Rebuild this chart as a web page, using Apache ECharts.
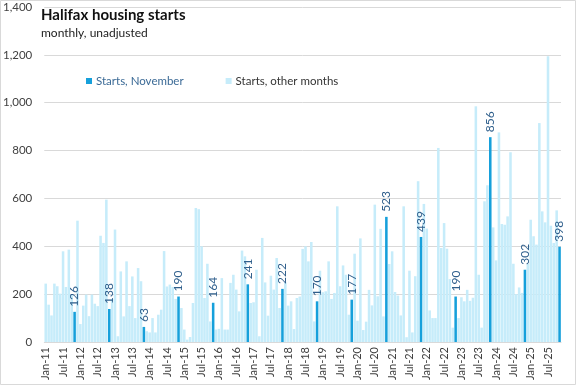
<!DOCTYPE html>
<html><head><meta charset="utf-8">
<script src="https://cdn.jsdelivr.net/npm/echarts@6/dist/echarts.min.js"></script>
<style>html,body{margin:0;padding:0;background:#fff}#c{width:576px;height:385px}</style>
</head><body><div id="c"></div>
<script>
// Monthly housing starts, Jan..Dec per year (2025: Jan..Nov)
const y2011 = [244,156,111,244,233,202,379,230,386,200,126,507];
const y2012 = [75,152,198,108,198,160,150,444,414,595,138,180];
const y2013 = [470,24,295,107,337,150,274,100,309,254,63,45];
const y2014 = [40,100,40,114,135,380,232,240,230,180,190,142];
const y2015 = [52,10,21,163,560,555,400,184,327,86,164,52];
const y2016 = [55,267,52,52,247,281,219,128,382,358,241,163];
const y2017 = [166,302,24,435,249,110,277,219,351,142,222,249];
const y2018 = [152,170,54,184,190,389,400,337,418,86,170,298];
const y2019 = [208,212,337,180,205,567,233,320,281,114,177,369];
const y2020 = [89,433,50,85,218,153,574,191,473,107,523,326];
const y2021 = [379,209,194,111,567,20,298,40,275,672,439,577];
const y2022 = [474,132,100,100,811,393,497,390,263,60,190,100];
const y2023 = [187,170,218,172,185,985,281,60,588,655,856,479];
const y2024 = [341,876,493,490,525,793,327,200,228,205,302,326];
const y2025 = [511,442,407,915,546,500,1194,486,414,550,398];
const years = [2011,2012,2013,2014,2015,2016,2017,2018,2019,2020,2021,2022,2023,2024,2025];
const monthNames = ['Jan','Feb','Mar','Apr','May','Jun','Jul','Aug','Sep','Oct','Nov','Dec'];
const yTicks = [0,200,400,600,800,1000,1200,1400];
const seriesNames = ['Starts, November','Starts, other months'];

const byYear = [y2011,y2012,y2013,y2014,y2015,y2016,y2017,y2018,y2019,y2020,y2021,y2022,y2023,y2024,y2025];
const categories = [], novData = [], otherData = [];
byYear.forEach((arr, yi) => {
  arr.forEach((v, m) => {
    categories.push(monthNames[m] + '-' + String(years[yi]).slice(2));
    if (m === 10) { novData.push(v); otherData.push('-'); }
    else { novData.push('-'); otherData.push(v); }
  });
});

const FONT = 'Lato, "Liberation Sans", sans-serif';
const chart = echarts.init(document.getElementById('c'), null, {renderer: 'canvas'});
chart.setOption({
  animation: false,
  backgroundColor: '#fff',
  textStyle: {fontFamily: FONT},
  title: {
    text: 'Halifax housing starts',
    subtext: 'monthly, unadjusted',
    left: 41, top: 8, itemGap: 4, padding: 0,
    textStyle: {fontFamily: FONT, fontSize: 15, fontWeight: 'bold', color: '#111'},
    subtextStyle: {fontFamily: FONT, fontSize: 12, color: '#222'}
  },
  legend: {
    left: 81, top: 70, itemWidth: 6, itemHeight: 6, itemGap: 42,
    icon: 'rect',
    data: [
      {name: seriesNames[0], textStyle: {color: '#3b6a96'}},
      {name: seriesNames[1], textStyle: {color: '#333'}}
    ],
    textStyle: {fontFamily: FONT, fontSize: 11.5, padding: [0,0,0,-1]}
  },
  graphic: [{type: 'rect', shape: {x: 0.5, y: 0.5, width: 575, height: 384}, style: {fill: 'none', stroke: '#d9d9d9', lineWidth: 1}, silent: true}],
  grid: {left: 40, right: 15, top: 7, bottom: 43, containLabel: false},
  xAxis: {
    type: 'category', data: categories, boundaryGap: true,
    axisLine: {show: true, lineStyle: {color: '#d9d9d9'}},
    axisTick: {show: false},
    axisLabel: {
      rotate: 90, fontSize: 11, color: '#404040', margin: 5, fontFamily: FONT,
      interval: (idx, val) => val.startsWith('Jan') || val.startsWith('Jul')
    }
  },
  yAxis: {
    type: 'value', min: yTicks[0], max: yTicks[yTicks.length-1], interval: 200,
    axisLine: {show: false}, axisTick: {show: false},
    splitLine: {lineStyle: {color: '#d9d9d9', width: 1}},
    axisLabel: {fontSize: 11.5, color: '#404040', margin: 12, fontFamily: FONT,
      formatter: v => v.toLocaleString('en-US')}
  },
  series: [
    {
      name: seriesNames[0], type: 'bar', stack: 's', data: novData,
      barCategoryGap: '12%',
      itemStyle: {color: '#16a0db'},
      label: {show: true, position: 'top', rotate: 90, align: 'left', verticalAlign: 'middle',
        distance: 5, fontSize: 12, color: '#2f5f8c', fontFamily: FONT},
      z: 3
    },
    {
      name: seriesNames[1], type: 'bar', stack: 's', data: otherData,
      barCategoryGap: '12%',
      itemStyle: {color: '#c6ecfa'}
    }
  ]
});
</script></body></html>
